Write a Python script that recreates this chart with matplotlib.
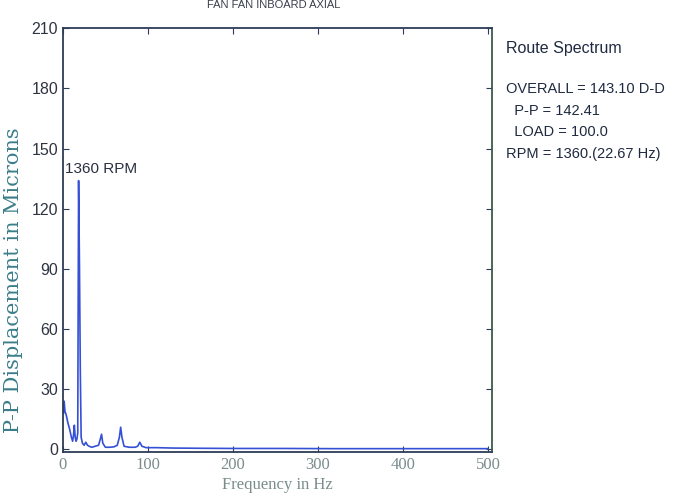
import matplotlib
matplotlib.use("Agg")
import matplotlib.pyplot as plt

# spectrum (Hz, microns p-p)
freq_hz = [0.8, 1.5, 2.5, 4, 6, 8, 10, 11.5, 12.5, 13.5, 14.5, 15.5, 16.5, 17.5,
           18.5, 19.5, 20.5, 21.5, 23, 25, 27, 29, 31, 34, 38, 42, 44, 45.5, 47,
           50, 55, 60, 64, 66.5, 68, 69.5, 72, 78, 85, 88, 90.5, 93, 98, 110,
           130, 160, 200, 260, 320, 400, 500]
amp_um = [18, 24, 19, 17, 13, 10, 6, 4, 7, 12, 6, 4, 5, 8,
          134, 93, 40, 6, 3, 2, 3.5, 2, 1.5, 1, 1.5, 2, 5, 7.5, 3,
          1, 1, 1.2, 2, 6, 11, 6, 1.5, 1, 1, 1.5, 3.5, 1.5, 0.8, 0.8,
          0.6, 0.5, 0.4, 0.4, 0.3, 0.3, 0.3]

x_ticks = [0, 100, 200, 300, 400, 500]
y_ticks = [0, 30, 60, 90, 120, 150, 180, 210]

info_lines = ["OVERALL = 143.10 D-D", "  P-P = 142.41", "  LOAD = 100.0",
              "RPM = 1360.(22.67 Hz)"]

sans = ["Liberation Sans", "DejaVu Sans"]
serif = ["Liberation Serif", "DejaVu Serif"]

fig = plt.figure(figsize=(6.76, 4.97), dpi=100)
ax = fig.add_axes([0.093, 0.09, 0.635, 0.853])

ax.plot(freq_hz, amp_um, color="#3550d4", lw=1.2)
ax.set_xlim(0, 505)
ax.set_ylim(-1.5, 210)
ax.set_xticks(x_ticks)
ax.set_yticks(y_ticks)

for s in ax.spines.values():
    s.set_color("#2c3c58")
    s.set_linewidth(1.3)
ax.spines["right"].set_color("#3d5a4a")

ax.tick_params(direction="in", length=4, top=True, right=True, color="#2c3c58")
for lab in ax.get_yticklabels():
    lab.set_family(sans)
    lab.set_fontsize(11.5)
    lab.set_color("#2e3440")
for lab in ax.get_xticklabels():
    lab.set_family(serif)
    lab.set_fontsize(12)
    lab.set_color("#7a8c8c")

ax.set_ylabel("P-P Displacement in Microns", family=["DejaVu Serif"],
              fontsize=15, color="#3a7d8a")
ax.yaxis.set_label_coords(-0.093, 0.405)
ax.set_xlabel("Frequency in Hz", family=serif, fontsize=12, color="#7a8c8c",
              labelpad=3)

ax.text(2, 140, "1360 RPM", family=sans, fontsize=11, color="#2a3040",
        va="center")

fig.text(0.405, 0.999, "FAN FAN INBOARD AXIAL", family=sans, fontsize=8,
         color="#3a4050", ha="center", va="top")

fig.text(0.748, 0.903, "Route Spectrum", family=sans, fontsize=11.5,
         color="#1f2a40", va="center")
for i, line in enumerate(info_lines):
    fig.text(0.748, 0.82 - i * 0.043, line, family=sans, fontsize=10.5,
             color="#1f2a40", va="center")

fig.savefig("out.png", dpi=100, facecolor="white")
